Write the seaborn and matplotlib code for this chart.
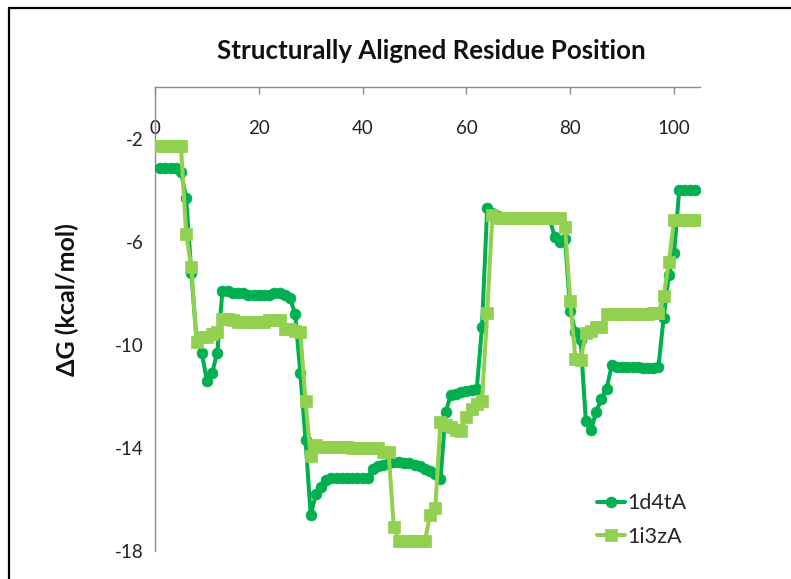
import numpy as np
import pandas as pd
import matplotlib
matplotlib.use("Agg")
import matplotlib.pyplot as plt
import seaborn as sns
from matplotlib.lines import Line2D

# ---------------- data ----------------
residue_position = list(range(1, 105))

dg_1d4tA = [-3.15, -3.15, -3.15, -3.15, -3.3, -4.3, -7.2, -9.8, -10.3, -11.4,
            -11.1, -10.3, -7.9, -7.9, -8.0, -8.0, -8.0, -8.05, -8.05, -8.05,
            -8.05, -8.05, -8.0, -8.0, -8.05, -8.2, -8.8, -11.1, -13.7, -16.6,
            -15.8, -15.5, -15.25, -15.15, -15.15, -15.15, -15.15, -15.15, -15.15, -15.15,
            -15.15, -14.8, -14.7, -14.65, -14.6, -14.55, -14.55, -14.6, -14.6, -14.65,
            -14.7, -14.8, -14.9, -15.0, -15.2, -12.6, -11.95, -11.9, -11.85, -11.8,
            -11.75, -11.7, -9.3, -4.7, -4.9, -5.0, -5.1, -5.1, -5.1, -5.1,
            -5.1, -5.1, -5.1, -5.1, -5.1, -5.1, -5.8, -6.0, -5.9, -8.7,
            -9.5, -9.8, -12.95, -13.3, -12.6, -12.1, -11.7, -10.8, -10.85, -10.85,
            -10.85, -10.85, -10.85, -10.9, -10.9, -10.9, -10.85, -8.95, -7.3, -6.45,
            -4.0, -4.0, -4.0, -4.0]

dg_1i3zA = [-2.3, -2.3, -2.3, -2.3, -2.3, -5.7, -7.0, -9.9, -9.7, -9.7,
            -9.6, -9.5, -9.0, -9.0, -9.05, -9.1, -9.1, -9.1, -9.1, -9.1,
            -9.1, -9.05, -9.05, -9.05, -9.4, -9.4, -9.45, -9.5, -12.2, -14.3,
            -13.9, -13.95, -13.95, -13.95, -13.95, -13.95, -13.95, -14.0, -14.0, -14.0,
            -14.0, -14.0, -14.0, -14.15, -14.15, -17.05, -17.6, -17.6, -17.6, -17.6,
            -17.6, -17.6, -16.6, -16.35, -13.0, -13.1, -13.2, -13.3, -13.35, -12.8,
            -12.5, -12.3, -12.2, -8.75, -4.95, -5.1, -5.1, -5.1, -5.1, -5.1,
            -5.1, -5.1, -5.1, -5.1, -5.1, -5.1, -5.1, -5.1, -5.45, -8.3,
            -10.55, -10.6, -9.55, -9.45, -9.3, -9.3, -8.8, -8.8, -8.8, -8.8,
            -8.8, -8.8, -8.8, -8.8, -8.8, -8.75, -8.75, -8.1, -6.8, -5.15,
            -5.15, -5.15, -5.15, -5.15]

series_names = ["1d4tA", "1i3zA"]
x_ticks = [0, 20, 40, 60, 80, 100]
y_ticks = [-18, -14, -10, -6, -2]
title_text = "Structurally Aligned Residue Position"
ylabel_text = "ΔG (kcal/mol)"

# ---------------- style ----------------
sns.set_style("white")
plt.rcParams["font.family"] = ["Lato", "DejaVu Sans"]
plt.rcParams["axes.unicode_minus"] = False

dark_green = "#00B050"
light_green = "#92D050"
axis_gray = "#8C8C8C"

W, H = 791, 579
fig = plt.figure(figsize=(W / 100, H / 100), dpi=100)
ax = fig.add_axes([155 / W, 1 - 551 / H, 545 / W, 464 / H])

df_a = pd.DataFrame({"pos": residue_position, "dG": dg_1d4tA})
df_b = pd.DataFrame({"pos": residue_position, "dG": dg_1i3zA})

sns.lineplot(data=df_a, x="pos", y="dG", ax=ax, color=dark_green, marker="o",
             markersize=7.8, markeredgecolor=dark_green, markeredgewidth=0.5,
             linewidth=2.9, label=series_names[0], zorder=3)
sns.lineplot(data=df_b, x="pos", y="dG", ax=ax, color=light_green, marker="s",
             markersize=8.8, markeredgecolor=light_green, markeredgewidth=0.5,
             linewidth=2.9, label=series_names[1], zorder=4)

ax.set_xlim(0, 105)
ax.set_ylim(-18, 0)
ax.set_xticks(x_ticks)
ax.set_yticks(y_ticks)
ax.xaxis.tick_top()
ax.tick_params(axis="x", direction="in", length=5, width=1, color=axis_gray,
               pad=-36, labelsize=13.5, labelcolor="#222222")
ax.tick_params(axis="y", direction="out", length=5, width=1, color=axis_gray,
               pad=3, labelsize=13.5, labelcolor="#222222")
for side in ["right", "bottom"]:
    ax.spines[side].set_visible(False)
for side in ["top", "left"]:
    ax.spines[side].set_color(axis_gray)
    ax.spines[side].set_linewidth(1.0)
ax.set_xlabel("")
ax.set_ylabel(ylabel_text, fontsize=18, fontweight="bold", color="#111111")
ax.yaxis.label.set_verticalalignment("center")
ax.yaxis.set_label_coords((67 - 155) / 545, (551 - 300) / 464)
ax.grid(False)

fig.text(431 / W, 1 - 51 / H, title_text, ha="center", va="center",
         fontsize=18.6, fontweight="bold", color="#111111")

leg = ax.legend(loc="center left", bbox_to_anchor=((597 - 155) / 545, (551 - 520) / 464),
                frameon=False, fontsize=15.5, handlelength=1.3, handletextpad=0.12,
                labelspacing=0.62, borderpad=0, borderaxespad=0)

# outer frame (partially visible in the reference)
fig.add_artist(Line2D([9 / W, 9 / W], [0, 1 - 8 / H], transform=fig.transFigure,
                      color="black", linewidth=1.6))
fig.add_artist(Line2D([9 / W, 1], [1 - 8 / H, 1 - 8 / H], transform=fig.transFigure,
                      color="black", linewidth=1.6))

fig.savefig("out.png", dpi=100)
